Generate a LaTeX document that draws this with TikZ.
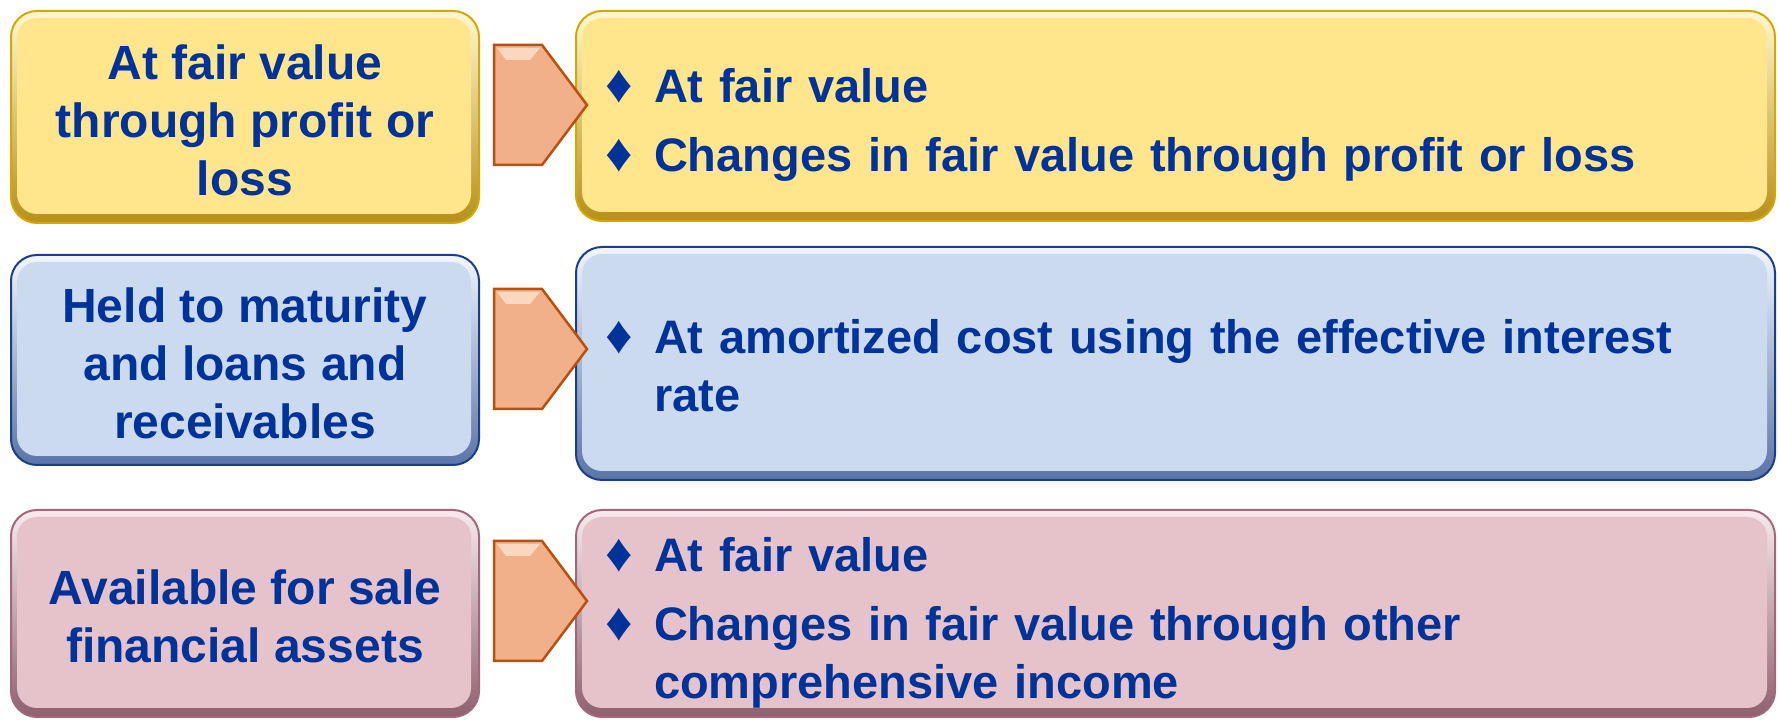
\documentclass[tikz,border=0pt]{standalone}
\usepackage{fontspec}
\setmainfont{Liberation Sans}
\definecolor{txt}{HTML}{003399}
\definecolor{yfill}{HTML}{FFE68C}\definecolor{yhi}{HTML}{FFF8D0}\definecolor{ylo}{HTML}{B89018}\definecolor{yedge}{HTML}{D4A800}
\definecolor{bfill}{HTML}{CCDAF0}\definecolor{bhi}{HTML}{F2F6FD}\definecolor{blo}{HTML}{5A74A8}\definecolor{bedge}{HTML}{1C3C8C}
\definecolor{pfill}{HTML}{E6C3CA}\definecolor{phi}{HTML}{F8EAEE}\definecolor{plo}{HTML}{8E6070}\definecolor{pedge}{HTML}{A06878}
\definecolor{afill}{HTML}{F2B08A}\definecolor{ahi}{HTML}{FAD8C0}\definecolor{aedge}{HTML}{B85010}
\newcommand{\bitem}[1]{\noindent\hangindent=44pt\hangafter=1\makebox[44pt][l]{\hspace{-5pt}\fontsize{54}{54}\selectfont\char"2666}#1\par}
\newcommand{\brk}{\hfil\break}
\begin{document}
\begin{tikzpicture}[x=1pt,y=1pt,
  every node/.style={inner sep=0pt, outer sep=0pt},
  box/.style={rectangle, rounded corners=26pt, draw=#1edge, line width=2pt,
    top color=#1hi, bottom color=#1lo,
    path picture={\fill[#1fill, rounded corners=20pt]
      ([shift={(6pt,-7pt)}]path picture bounding box.north west) rectangle
      ([shift={(-8pt,9pt)}]path picture bounding box.south east);}},
  lbl/.style={text=txt, font=\bfseries\fontsize{48}{58}\selectfont, align=center, yshift=-3pt},
  rtxt/.style={text=txt, font=\bfseries\fontsize{47}{58}\selectfont\raggedright, text width=1140pt, anchor=west},
  chev/.style={fill=afill, draw=aedge, line width=2.5pt, line join=miter}
]
\useasboundingbox (0,0) rectangle (1778,720);
% row 1
\node[box=y, minimum width=468pt, minimum height=212pt] (l1) at (245,603) {};
\node[lbl] (t1) at (l1.center) {At fair value\\through profit or\\loss};
\node[box=y, minimum width=1199pt, minimum height=210pt] (r1) at (1175.5,604) {};
\node[rtxt] (s1) at ([xshift=34pt,yshift=-9pt]r1.west) {\bitem{At fair value}\vspace{11pt}\bitem{Changes in fair value through profit or loss}};
% row 2
\node[box=b, minimum width=468pt, minimum height=210pt] (l2) at (245,360) {};
\node[lbl] (t2) at (l2.center) {Held to maturity\\and loans and\\receivables};
\node[box=b, minimum width=1199pt, minimum height=233pt] (r2) at (1175.5,356.5) {};
\node[rtxt] (s2) at ([xshift=34pt,yshift=-2pt]r2.west) {\bitem{At amortized cost using the effective interest\brk rate}};
% row 3
\node[box=p, minimum width=468pt, minimum height=207pt] (l3) at (245,106.5) {};
\node[lbl] (t3) at (l3.center) {Available for sale\\financial assets};
\node[box=p, minimum width=1199pt, minimum height=207pt] (r3) at (1175.5,106.5) {};
\node[rtxt] (s3) at ([xshift=34pt,yshift=-9pt]r3.west) {\bitem{At fair value}\vspace{11pt}\bitem{Changes in fair value through other\brk comprehensive income}};
% chevrons
\foreach \yc in {615, 371, 119} {
  \draw[chev] (494,\yc+60) -- (542,\yc+60) -- (587,\yc) -- (542,\yc-60) -- (494,\yc-60) -- cycle;
  \fill[ahi] (497,\yc+57) -- (540,\yc+57) -- (530,\yc+45) -- (506,\yc+45) -- cycle;
}
\end{tikzpicture}
\end{document}
